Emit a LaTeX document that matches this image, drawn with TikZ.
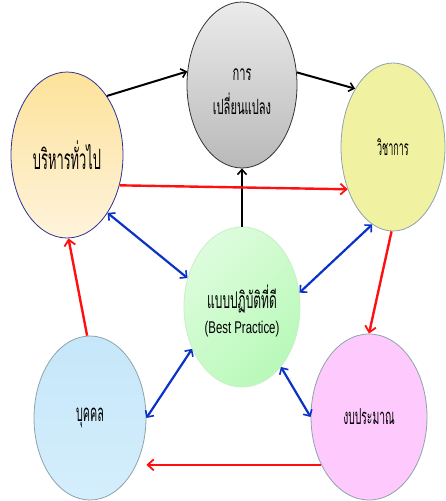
\documentclass[tikz,border=0pt]{standalone}
\usepackage{fontspec}
\usetikzlibrary{shapes.geometric,arrows.meta}
\newfontfamily\thaifont[Script=Thai]{Loma}
\setmainfont{Liberation Sans}
\definecolor{grayA}{HTML}{EBEBEB}
\definecolor{grayB}{HTML}{B9B9B9}
\definecolor{yelA}{HTML}{FDE29A}
\definecolor{yelB}{HTML}{FEF3DC}
\definecolor{limeA}{HTML}{F1F1A2}
\definecolor{greenA}{HTML}{DDFCDD}
\definecolor{greenB}{HTML}{B9F9B9}
\definecolor{blueA}{HTML}{C6E7FA}
\definecolor{blueB}{HTML}{D4EEFC}
\definecolor{pinkA}{HTML}{FECAFE}
\definecolor{edgeNavy}{HTML}{2E3192}
\definecolor{edgeGray}{HTML}{8EA3AB}
\definecolor{edgeGreen}{HTML}{C8F0C8}
\definecolor{arrRed}{HTML}{FF1010}
\definecolor{arrBlue}{HTML}{0A32C8}
% condensed label: #1 horizontal scale, #2 font size, #3 text
\newcommand{\narrowlabel}[3]{\scalebox{#1}[1]{\fontsize{#2}{#2}\selectfont #3}}
\tikzset{
  bubble/.style={ellipse,inner sep=0pt,line width=0.8pt,align=center},
  blackarrow/.style={line width=2pt,black,-{Straight Barb[length=5pt,width=9pt,line width=1.6pt]}},
  redarrow/.style={line width=2.4pt,arrRed,-{Straight Barb[length=6pt,width=11pt,line width=1.8pt]}},
  bluearrow/.style={line width=2.2pt,arrBlue,{Straight Barb[length=5pt,width=10pt,line width=1.6pt]}-{Straight Barb[length=5pt,width=10pt,line width=1.6pt]}},
}
\begin{document}
\begin{tikzpicture}[x=1pt,y=-1pt]
\useasboundingbox (0,0) rectangle (446,501);
\fill[white] (0,0) rectangle (446,501);

% the six bubbles
\node[bubble,draw=black!80,top color=grayA,bottom color=grayB,
      minimum width=110pt,minimum height=166pt] (T) at (242,85) {};
\node[font=\thaifont] (Ttxt1) at (242,75) {\narrowlabel{0.53}{21}{การ}};
\node[font=\thaifont] (Ttxt2) at (242,104) {\narrowlabel{0.53}{21}{เปลี่ยนแปลง}};

\node[bubble,draw=edgeNavy,top color=yelA,bottom color=yelB,
      minimum width=112pt,minimum height=166pt,font=\thaifont] (L) at (67,155)
      {\narrowlabel{0.46}{28}{บริหารทั่วไป}};

\node[bubble,draw=edgeGray,fill=limeA,
      minimum width=104pt,minimum height=168pt,font=\thaifont] (R) at (393,147)
      {\narrowlabel{0.43}{21}{วิชาการ}};

\node[bubble,draw=edgeGreen,left color=greenA,right color=greenB,shading angle=45,
      minimum width=116pt,minimum height=160pt] (C) at (242,307) {};
\node[font=\thaifont] (Ctxt1) at (242,299) {\narrowlabel{0.52}{23}{แบบปฏิบัติที่ดี}};
\node (Ctxt2) at (242,329) {\narrowlabel{0.67}{17}{(Best Practice)}};

\node[bubble,draw=edgeGray,top color=blueA,bottom color=blueB,
      minimum width=112pt,minimum height=164pt,font=\thaifont] (BL) at (90,418)
      {\narrowlabel{0.45}{24}{บุคคล}};

\node[bubble,draw=edgeGray,fill=pinkA,
      minimum width=116pt,minimum height=166pt,font=\thaifont] (BR) at (369,417)
      {\narrowlabel{0.47}{22}{งบประมาณ}};

% black flow along the top
\draw[blackarrow] (L.56) -- (T.166);
\draw[blackarrow] (T.13) -- (R.123);
\draw[blackarrow] (C.90) -- (T.270);

% red cycle
\draw[redarrow] (L.-30) -- (R.-137);
\draw[redarrow] (R.-91) -- (BR.90);
\draw[redarrow] (BR.225) -- (BR.225 -| BL.east);
\draw[redarrow] (BL.92) -- (L.-89);

% blue links with the centre
\draw[bluearrow] (L.-55) -- (C.152);
\draw[bluearrow] (R.-105) -- (C.14);
\draw[bluearrow] (C.-140) -- (BL.0);
\draw[bluearrow] (C.-57) -- (BR.180);
\end{tikzpicture}
\end{document}
